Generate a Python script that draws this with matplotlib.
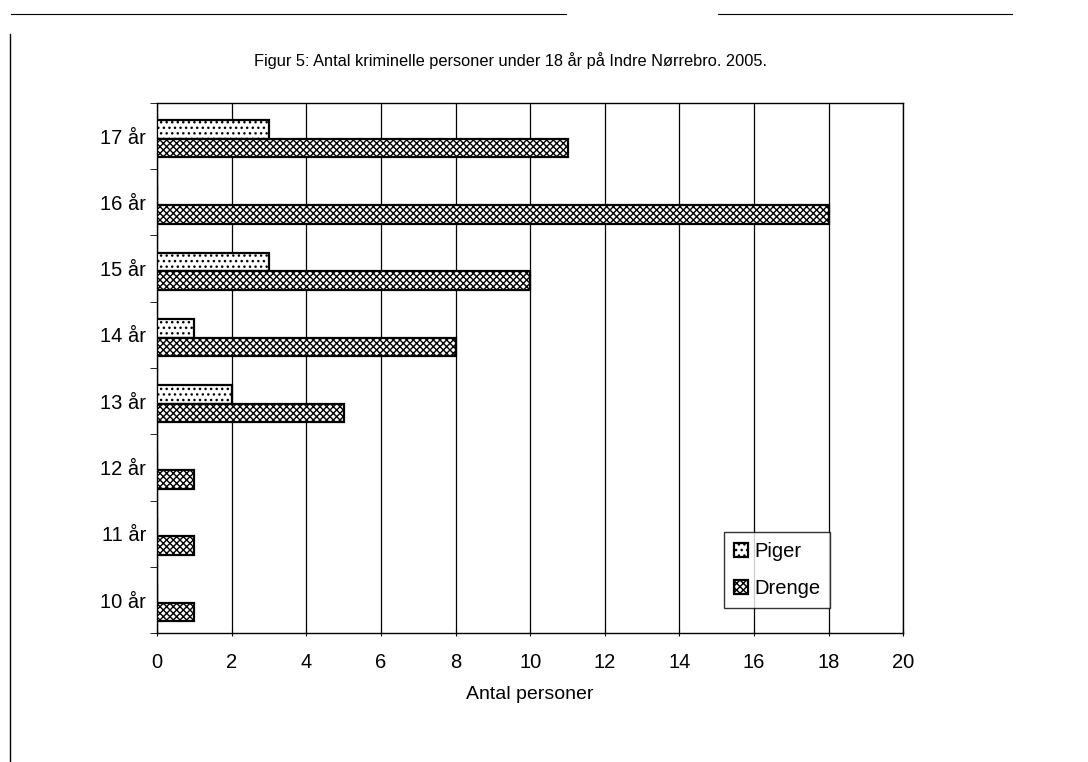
import matplotlib
matplotlib.use("Agg")
import matplotlib.pyplot as plt
from matplotlib.lines import Line2D
import numpy as np

categories = ["10 år", "11 år", "12 år", "13 år", "14 år", "15 år", "16 år", "17 år"]
piger = [0, 0, 0, 2, 1, 3, 0, 3]
drenge = [1, 1, 1, 5, 8, 10, 18, 11]
xticks = [0, 2, 4, 6, 8, 10, 12, 14, 16, 18, 20]
title = "Figur 5: Antal kriminelle personer under 18 år på Indre Nørrebro. 2005."
xlabel = "Antal personer"

plt.rcParams['font.family'] = ['Liberation Sans', 'DejaVu Sans']
plt.rcParams['hatch.linewidth'] = 1.0

fig = plt.figure(figsize=(10.88, 7.62), dpi=100)
ax = fig.add_axes([0.1443, 0.169, 0.686, 0.696])

y = np.arange(len(categories))
h = 0.28
ax.barh(y - 0.04 + h / 2, piger, height=h, facecolor='white', edgecolor='black',
        hatch='...', linewidth=1.6, label='Piger', zorder=3)
ax.barh(y - 0.04 - h / 2, drenge, height=h, facecolor='white', edgecolor='black',
        hatch='xxxxx', linewidth=1.6, label='Drenge', zorder=3)

ax.set_ylim(-0.5, len(categories) - 0.5)
ax.set_xlim(0, 20)
ax.set_yticks(y)
ax.set_yticklabels(categories, fontsize=14.5)
ax.set_xticks(xticks)
ax.set_xticklabels([str(t) for t in xticks], fontsize=14.5)
ax.set_yticks(np.arange(-0.5, len(categories), 1.0), minor=True)
ax.tick_params(axis='y', which='major', length=0, pad=8)
ax.tick_params(axis='y', which='minor', length=5, direction='out')
ax.tick_params(axis='x', length=5, direction='inout', pad=12)
ax.grid(axis='x', color='black', linewidth=0.9, zorder=0)
for s in ax.spines.values():
    s.set_linewidth(1.0)
ax.set_xlabel(xlabel, fontsize=14, labelpad=10)

fig.text(0.469, 0.921, title, ha='center', va='center', fontsize=11.8)

leg = ax.legend(loc='lower right', bbox_to_anchor=(0.902, 0.047), fontsize=14.5,
                frameon=True, fancybox=False, edgecolor='black', handlelength=0.7,
                handleheight=0.7, handletextpad=0.3, borderpad=0.5, labelspacing=0.9,
                borderaxespad=0.0)
leg.get_frame().set_linewidth(1.0)

# scan frame lines
fig.add_artist(Line2D([0.009, 0.009], [0.0, 0.955], color='black', linewidth=1.0,
                      transform=fig.transFigure))
fig.add_artist(Line2D([0.01, 0.52], [0.982, 0.982], color='black', linewidth=0.8,
                      transform=fig.transFigure))
fig.add_artist(Line2D([0.66, 0.93], [0.982, 0.982], color='black', linewidth=0.8,
                      transform=fig.transFigure))

fig.savefig("out.png", dpi=100)
